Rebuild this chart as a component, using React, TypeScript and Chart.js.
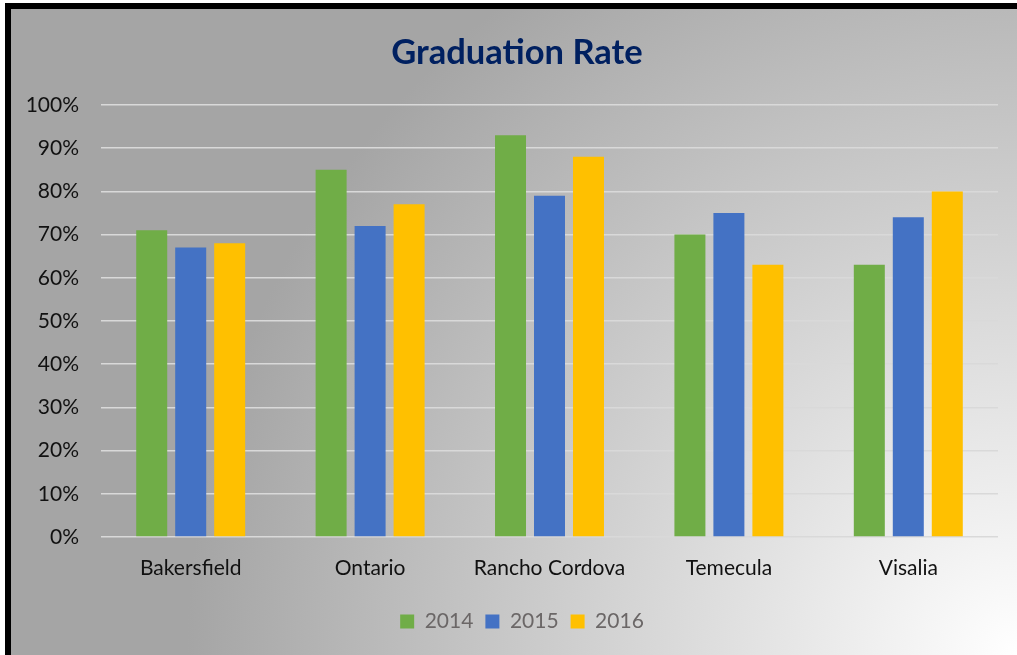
import React, { useEffect, useRef } from "react";
import { Chart, registerables } from "chart.js";

Chart.register(...registerables);

const categories = ["Bakersfield", "Ontario", "Rancho Cordova", "Temecula", "Visalia"];
const seriesNames = ["2014", "2015", "2016"];
const rate2014 = [71, 85, 93, 70, 63];
const rate2015 = [67, 72, 79, 75, 74];
const rate2016 = [68, 77, 88, 63, 80];
const seriesColors = ["#70AD47", "#4472C4", "#FFC000"];
const yMax = 100;
const yStep = 10;

const FONT = "Lato, 'Open Sans', sans-serif";

// shifts title and legend boxes horizontally so they are centred like the reference
const centerShift = {
  id: "centerShift",
  afterLayout(chart: any) {
    const t = chart.titleBlock;
    if (t) {
      t.left += 25;
      t.right += 0;
    }
    const l = chart.legend;
    if (l) {
      l.left += 35;
    }
  },
};

export default function App() {
  const canvasRef = useRef<HTMLCanvasElement | null>(null);

  useEffect(() => {
    const canvas = canvasRef.current;
    if (!canvas) return;
    const seriesValues = [rate2014, rate2015, rate2016];
    const chart = new Chart(canvas, {
      type: "bar",
      data: {
        labels: categories,
        datasets: seriesNames.map((name, i) => ({
          label: name,
          data: seriesValues[i],
          backgroundColor: seriesColors[i],
          borderWidth: 0,
          categoryPercentage: 0.652,
          barPercentage: 0.795,
        })),
      },
      plugins: [centerShift],
      options: {
        animation: false,
        responsive: false,
        maintainAspectRatio: false,
        layout: { padding: { left: 0, right: 19, top: 0, bottom: 13 } },
        plugins: {
          title: {
            display: true,
            text: "Graduation Rate",
            color: "#002060",
            font: { family: FONT, size: 34.5, weight: "bold", lineHeight: 1.2 },
            padding: { top: 23, bottom: 31.6 },
          },
          legend: {
            position: "bottom",
            labels: {
              boxWidth: 14,
              boxHeight: 14,
              padding: 12,
              color: "#6b6767",
              font: { family: FONT, size: 21 },
            },
          },
          tooltip: { enabled: false },
        },
        scales: {
          x: {
            grid: { display: false, drawTicks: false },
            border: { display: false },
            ticks: {
              color: "#111111",
              padding: 19,
              font: { family: FONT, size: 21 },
            },
            afterFit: (scale: any) => {
              scale.height = 62;
            },
          },
          y: {
            min: 0,
            max: yMax,
            grid: { color: "#d9d9d9", lineWidth: 1.5, drawTicks: false },
            border: { display: false },
            ticks: {
              stepSize: yStep,
              color: "#111111",
              padding: 22,
              font: { family: FONT, size: 21 },
              callback: (v: any) => `${v}%`,
            },
            afterFit: (scale: any) => {
              scale.width = 90;
            },
          },
        },
      },
    });
    return () => chart.destroy();
  }, []);

  return (
    <div
      style={{
        position: "fixed",
        left: 5,
        top: 3,
        width: 1030,
        height: 670,
        border: "6px solid #000",
        background:
          "radial-gradient(circle 830px at 1006px 646px, #ffffff 0%, #a5a5a5 100%)",
        overflow: "hidden",
      }}
    >
      <canvas
        ref={canvasRef}
        width={1006}
        height={646}
        style={{ position: "absolute", left: 0, top: 0, width: 1006, height: 646 }}
      />
    </div>
  );
}
